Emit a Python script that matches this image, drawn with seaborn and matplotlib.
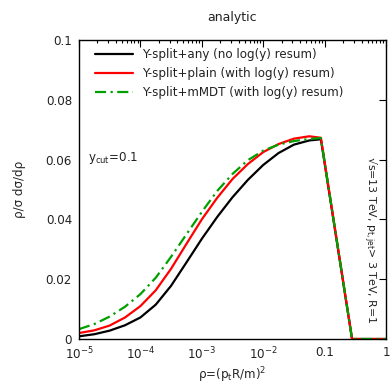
import numpy as np
import pandas as pd
import matplotlib
matplotlib.use("Agg")
import matplotlib.pyplot as plt
import seaborn as sns
from matplotlib.ticker import FixedLocator, FixedFormatter, LogLocator, NullFormatter

# rho grid (quarter-decade steps) and the three distributions
rho = [1e-5, 1.78e-5, 3.16e-5, 5.62e-5, 1e-4, 1.78e-4, 3.16e-4, 5.62e-4,
       1e-3, 1.78e-3, 3.16e-3, 5.62e-3, 1e-2, 1.78e-2, 3.16e-2, 5.62e-2,
       0.087, 0.28, 1.0]
ysplit_any = [0.0009, 0.0016, 0.0028, 0.0046, 0.0072, 0.0115, 0.0178, 0.0256,
              0.0335, 0.0408, 0.0474, 0.0532, 0.0582, 0.0622, 0.0650, 0.0664,
              0.0668, 0.0, 0.0]
ysplit_plain = [0.0020, 0.0029, 0.0045, 0.0072, 0.0110, 0.0163, 0.0235, 0.0318,
                0.0400, 0.0472, 0.0535, 0.0585, 0.0625, 0.0652, 0.0670, 0.0678,
                0.0673, 0.0, 0.0]
ysplit_mmdt = [0.0033, 0.0050, 0.0075, 0.0108, 0.0150, 0.0205, 0.0275, 0.0350,
               0.0425, 0.0495, 0.0552, 0.0598, 0.0630, 0.0650, 0.0662, 0.0669,
               0.0672, 0.0, 0.0]

labels = ["Y-split+any (no log(y) resum)",
          "Y-split+plain (with log(y) resum)",
          "Y-split+mMDT (with log(y) resum)"]

xticks = [1e-5, 1e-4, 1e-3, 1e-2, 0.1, 1]
xticklabels = ["$10^{-5}$", "$10^{-4}$", "$10^{-3}$", "$10^{-2}$", "0.1", "1"]
yticks = [0, 0.02, 0.04, 0.06, 0.08, 0.1]
yticklabels = ["0", "0.02", "0.04", "0.06", "0.08", "0.1"]

sns.set_style("white")
plt.rcParams["font.family"] = ["DejaVu Sans"]
plt.rcParams["mathtext.fontset"] = "dejavusans"
plt.rcParams["text.color"] = "#222222"
fs = 8.6

df = pd.DataFrame({"rho": rho, "any": ysplit_any, "plain": ysplit_plain, "mmdt": ysplit_mmdt})

fig = plt.figure(figsize=(3.91, 3.85), dpi=100)
ax = fig.add_axes([79 / 391, 1 - 339 / 385, (386 - 79) / 391, (339 - 40) / 385])

sns.lineplot(data=df, x="rho", y="any", ax=ax, color="black", lw=1.6, label=labels[0])
sns.lineplot(data=df, x="rho", y="plain", ax=ax, color="#ff0000", lw=1.6, label=labels[1])
sns.lineplot(data=df, x="rho", y="mmdt", ax=ax, color="#00a000", lw=1.6,
             linestyle=(0, (5, 2, 1, 2)), label=labels[2])

ax.set_xscale("log")
ax.set_xlim(1e-5, 1)
ax.set_ylim(0, 0.1)

ax.xaxis.set_major_locator(FixedLocator(xticks))
ax.xaxis.set_major_formatter(FixedFormatter(xticklabels))
ax.xaxis.set_minor_locator(LogLocator(base=10, subs=np.arange(2, 10)))
ax.xaxis.set_minor_formatter(NullFormatter())
ax.yaxis.set_major_locator(FixedLocator(yticks))
ax.yaxis.set_major_formatter(FixedFormatter(yticklabels))

ax.tick_params(which="both", direction="in", top=True, right=True, labelsize=fs,
               color="black", width=0.8, labelcolor="#222222")
ax.tick_params(which="major", length=5, pad=5)
ax.tick_params(which="minor", length=2.5)
for s in ax.spines.values():
    s.set_color("black")
    s.set_linewidth(1.0)

ax.set_xlabel("ρ=(p$_\\mathregular{t}$R/m)$^\\mathregular{2}$", fontsize=fs, labelpad=2)
ax.set_ylabel("ρ/σ dσ/dρ", fontsize=fs, labelpad=14)
ax.set_title("analytic", fontsize=fs + 0.4, pad=14)

ax.text(0.03, 0.605, "y$_\\mathregular{cut}$=0.1", transform=ax.transAxes, fontsize=fs,
        va="center", ha="left")
ax.text(0.948, 0.33, "√s=13 TeV, p$_\\mathregular{t,jet}$> 3 TeV, R=1",
        transform=ax.transAxes, fontsize=fs * 0.92, rotation=-90, va="center", ha="center")

leg = ax.legend(loc="upper left", frameon=False, fontsize=fs, handlelength=3.2,
                handletextpad=0.8, labelspacing=0.5, borderaxespad=0.25,
                bbox_to_anchor=(0.026, 1.0))

fig.savefig("out.png", dpi=100)
